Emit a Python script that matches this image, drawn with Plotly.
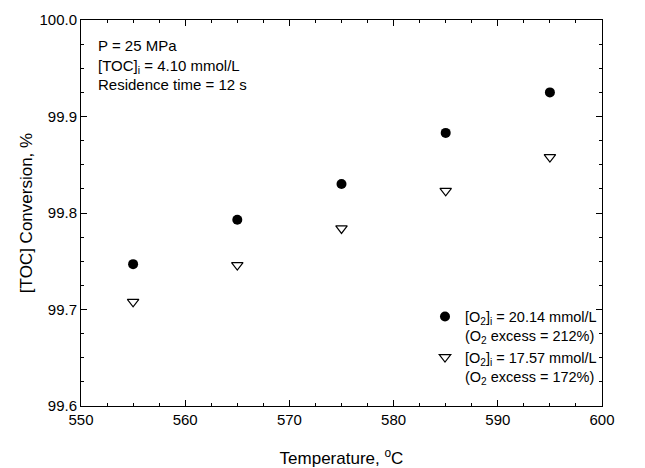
import plotly.graph_objects as go

temperature = [555, 565, 575, 585, 595]
conv_o2_high = [99.747, 99.793, 99.830, 99.883, 99.925]
conv_o2_low = [99.708, 99.746, 99.784, 99.823, 99.858]

label_high = "[O<sub>2</sub>]<sub>i</sub> = 20.14 mmol/L<br>(O<sub>2</sub> excess = 212%)"
label_low = "[O<sub>2</sub>]<sub>i</sub> = 17.57 mmol/L<br>(O<sub>2</sub> excess = 172%)"

font_family = "Liberation Sans, Arial, sans-serif"

fig = go.Figure()
fig.add_trace(go.Scatter(x=temperature, y=conv_o2_high, mode="markers", name=label_high,
                         marker=dict(symbol="circle", size=10, color="black")))
fig.add_trace(go.Scatter(x=temperature, y=conv_o2_low, mode="markers", name=label_low,
                         marker=dict(symbol="triangle-down-open", size=10, color="black",
                                     line=dict(width=1.2))))

axis_common = dict(showgrid=False, zeroline=False, showline=True, linecolor="black", linewidth=1,
                   mirror="ticks", ticks="inside", ticklen=6, tickcolor="black", automargin=False,
                   tickfont=dict(family=font_family, size=15, color="black"))

fig.update_xaxes(range=[550, 600], dtick=10, tick0=550,
                 minor=dict(dtick=2.5, ticks="inside", ticklen=3, tickcolor="black"),
                 title=dict(text="Temperature, <sup>o</sup>C", font=dict(family=font_family, size=17, color="black"),
                            standoff=25),
                 **axis_common)
fig.update_yaxes(range=[99.6, 100.0], dtick=0.1, tick0=99.6, tickformat=".1f",
                 minor=dict(dtick=0.025, ticks="inside", ticklen=3, tickcolor="black"),
                 title=dict(text="[TOC] Conversion, %", font=dict(family=font_family, size=17, color="black"),
                            standoff=2),
                 **axis_common)

fig.add_annotation(xref="paper", yref="paper", x=0.028, y=0.96, xanchor="left", yanchor="top",
                   text="P = 25 MPa<br>[TOC]<sub>i</sub> = 4.10 mmol/L<br>Residence time = 12 s",
                   showarrow=False, align="left",
                   font=dict(family=font_family, size=15, color="black"))

fig.update_layout(
    width=645, height=468,
    margin=dict(l=81, r=43, t=20, b=62),
    paper_bgcolor="white", plot_bgcolor="white",
    showlegend=True,
    legend=dict(x=1.0, y=0.035, xanchor="right", yanchor="bottom", bgcolor="rgba(0,0,0,0)",
                valign="top",
                font=dict(family=font_family, size=14.5, color="black"), tracegroupgap=2,
                itemwidth=30),
)

fig.write_html("out.html", config={"displayModeBar": False},
               post_script="document.body.style.margin='0px';")
